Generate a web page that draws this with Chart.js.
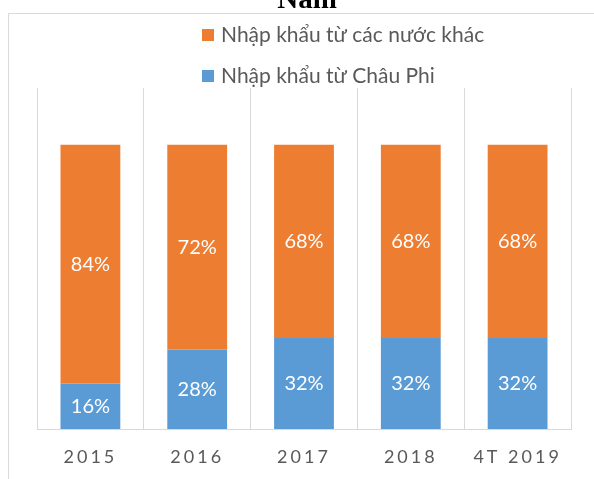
<!DOCTYPE html>
<html>
<head>
<meta charset="utf-8">
<script src="https://cdn.jsdelivr.net/npm/chart.js@4.4.1/dist/chart.umd.min.js"></script>
<style>
  html, body { margin: 0; padding: 0; background: #fff; }
  #wrap { width: 594px; height: 479px; }
</style>
</head>
<body>
<div id="wrap"><canvas id="chart" width="594" height="479"></canvas></div>
<script>
/* dữ liệu của biểu đồ */
const nam = ["2015", "2016", "2017", "2018", "4T 2019"]; // danh mục
const chauPhi = [16, 28, 32, 32, 32];   // nhập khẩu từ Châu Phi (%)
const nuocKhac = [84, 72, 68, 68, 68];  // nhập khẩu từ các nước khác (%)
const tieuDe = "Nam";

const xanh = "#5B9BD5";
const cam = "#ED7D31";
const chuXam = "#595959";
const vien = "#D9D9D9";

/* giãn chữ cho nhãn trục x */
const gianChu = {
  id: "gianChu",
  beforeDraw(chart) { chart.ctx.letterSpacing = "3px"; },
  beforeDatasetsDraw(chart) { chart.ctx.letterSpacing = "0px"; }
};

/* nhãn % trong từng cột */
const nhanGiaTri = {
  id: "nhanGiaTri",
  afterDatasetsDraw(chart) {
    const ctx = chart.ctx;
    ctx.save();
    ctx.letterSpacing = "0px";
    ctx.fillStyle = "#fff";
    ctx.font = "20px Lato";
    ctx.textAlign = "center";
    ctx.textBaseline = "middle";
    chart.data.datasets.forEach((ds, i) => {
      chart.getDatasetMeta(i).data.forEach((bar, j) => {
        const p = bar.getCenterPoint();
        ctx.fillText(ds.data[j] + "%", p.x, p.y);
      });
    });
    ctx.restore();
  }
};

/* khung, tiêu đề, chú giải */
const khung = {
  id: "khung",
  afterDraw(chart) {
    const ctx = chart.ctx;
    ctx.save();
    ctx.letterSpacing = "0px";
    ctx.strokeStyle = vien;
    ctx.lineWidth = 1;
    ctx.beginPath();
    ctx.moveTo(8.5, 479);
    ctx.lineTo(8.5, 13.5);
    ctx.lineTo(594, 13.5);
    ctx.stroke();

    ctx.fillStyle = "#000";
    ctx.font = "bold 29px 'Liberation Serif'";
    ctx.textAlign = "center";
    ctx.textBaseline = "alphabetic";
    ctx.fillText(tieuDe, 307, 7.5);

    // chú giải: thứ tự ngược (cam trước)
    const ds = chart.data.datasets.slice().reverse();
    ctx.font = "21px Lato";
    ctx.textAlign = "left";
    ctx.textBaseline = "middle";
    ds.forEach((d, i) => {
      const y = 35 + i * 41;
      ctx.fillStyle = d.backgroundColor;
      ctx.fillRect(202, y - 6, 12, 12);
      ctx.fillStyle = chuXam;
      ctx.fillText(d.label, 221, y);
    });
    ctx.restore();
  }
};

const data = {
  labels: nam,
  datasets: [
    { label: "Nhập khẩu từ Châu Phi", data: chauPhi, backgroundColor: xanh },
    { label: "Nhập khẩu từ các nước khác", data: nuocKhac, backgroundColor: cam }
  ]
};

const config = {
  type: "bar",
  data: data,
  options: {
    responsive: false,
    animation: false,
    layout: { padding: { left: 37, right: 23, top: 88, bottom: 0 } },
    datasets: { bar: { categoryPercentage: 1, barPercentage: 0.56 } },
    plugins: {
      legend: { display: false },
      title: { display: false },
      tooltip: { enabled: false }
    },
    scales: {
      x: {
        stacked: true,
        grid: { color: vien, drawTicks: false, offset: true },
        border: { color: vien },
        ticks: { color: chuXam, font: { family: "Lato", size: 18 }, padding: 17, maxRotation: 0 },
        afterFit(scale) { scale.height = 50; }
      },
      y: {
        stacked: true,
        display: false,
        min: 0,
        max: 120
      }
    }
  },
  plugins: [gianChu, nhanGiaTri, khung]
};

let myChart = new Chart(document.getElementById("chart"), config);
</script>
</body>
</html>
